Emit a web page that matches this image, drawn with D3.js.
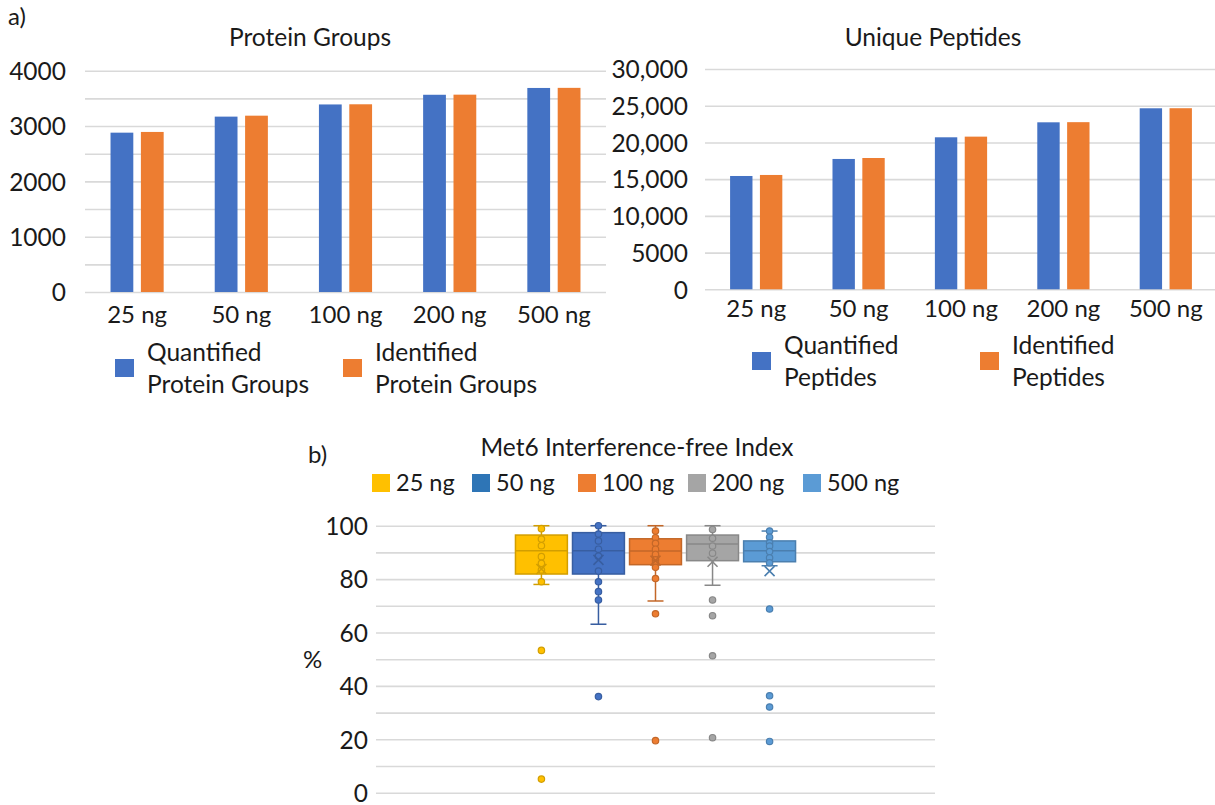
<!DOCTYPE html>
<html>
<head>
<meta charset="utf-8">
<script src="https://cdn.jsdelivr.net/npm/d3@7"></script>
<style>
  body { margin: 0; background: #fff; }
  svg text { font-family: Lato, Carlito, Calibri, sans-serif; fill: #1a1a1a; }
</style>
</head>
<body>
<svg id="chart" width="1215" height="805"></svg>
<script>
// Data
var categories = ["25 ng", "50 ng", "100 ng", "200 ng", "500 ng"];

var proteinQuantified = [2880, 3170, 3390, 3565, 3688];
var proteinIdentified = [2893, 3187, 3393, 3567, 3690];
var peptideQuantified = [15430, 17750, 20700, 22740, 24650];
var peptideIdentified = [15570, 17880, 20790, 22760, 24660];

var proteinTicks = [0, 1000, 2000, 3000, 4000];
var peptideTicks = [0, 5000, 10000, 15000, 20000, 25000, 30000];
var boxTicks = [0, 20, 40, 60, 80, 100];

// box & whisker summary, one entry per amount
var boxSeries = ["25 ng", "50 ng", "100 ng", "200 ng", "500 ng"];
var whiskerLow = [78.0, 63.1, 71.8, 77.7, 85.0];
var quart1 = [81.9, 81.9, 85.4, 86.9, 86.5];
var medians = [90.6, 90.6, 90.5, 93.1, 90.6];
var quart3 = [96.5, 97.4, 95.1, 96.5, 94.3];
var whiskerHigh = [100, 100, 100, 100, 98.0];
var means = [83.8, 87.2, 86.9, 86.5, 83.0];
var points = [
  [98.9, 95.0, 92.5, 88.4, 85.9, 83.4, 79.0, 53.3, 5.1],
  [100, 96.9, 94.3, 91.2, 88.6, 83.0, 79.0, 75.3, 72.2, 36.0],
  [98.0, 95.5, 93.4, 91.2, 89.3, 87.2, 85.9, 84.4, 80.2, 67.0, 19.5],
  [98.6, 95.3, 92.4, 89.7, 72.2, 66.3, 51.3, 20.6],
  [98.0, 95.7, 93.6, 92.4, 90.3, 88.0, 86.1, 68.8, 36.3, 32.1, 19.2]
];

var barColors = ["#4472C4", "#ED7D31"];
var boxColors = ["#FFC000", "#4472C4", "#ED7D31", "#A5A5A5", "#5B9BD5"];
var legendColors = ["#FFC000", "#2E75B6", "#ED7D31", "#A5A5A5", "#5B9BD5"];
var gridColor = "#d9d9d9";

var svg = d3.select("#chart");

function gridAndAxis(y, x0, x1, gridValues, labelValues, fmt, labelRight) {
  svg.append("g")
    .attr("transform", "translate(" + x0 + ",0)")
    .call(d3.axisLeft(y).tickValues(gridValues).tickSize(-(x1 - x0)).tickFormat(""))
    .call(function(g){ g.select(".domain").remove(); })
    .selectAll("line")
    .attr("stroke", gridColor)
    .attr("stroke-width", 1.6);

  svg.append("g")
    .attr("transform", "translate(" + labelRight + ",0)")
    .call(d3.axisLeft(y).tickValues(labelValues).tickSize(0).tickPadding(0).tickFormat(fmt))
    .call(function(g){ g.select(".domain").remove(); })
    .selectAll("text")
    .style("font-size", "24.5px")
    .attr("dy", "0.36em");
}

function barChart(cfg) {
  var x = d3.scaleBand().domain(categories).range([cfg.left, cfg.right])
    .paddingInner(0.49).paddingOuter(0.245);
  var xs = d3.scaleBand().domain([0, 1]).range([0, x.bandwidth()]).paddingInner(0.25);
  var y = d3.scaleLinear().domain([0, cfg.max]).range([cfg.bottom, cfg.top]);

  gridAndAxis(y, cfg.left, cfg.right, d3.range(0, cfg.max + 1, cfg.gridStep), cfg.ticks, cfg.fmt, cfg.labelRight);

  var series = [cfg.quant, cfg.ident];
  series.forEach(function(vals, s){
    svg.append("g").selectAll("rect")
      .data(vals)
      .enter()
      .append("rect")
      .attr("x", function(d, i){ return x(categories[i]) + xs(s); })
      .attr("y", function(d){ return y(d); })
      .attr("width", xs.bandwidth())
      .attr("height", function(d){ return y(0) - y(d); })
      .attr("fill", barColors[s]);
  });

  svg.append("g")
    .attr("transform", "translate(0," + (cfg.bottom + cfg.catGap) + ")")
    .call(d3.axisBottom(x).tickSize(0).tickPadding(0))
    .call(function(g){ g.select(".domain").remove(); })
    .selectAll("text")
    .attr("dy", 0)
    .style("font-size", "24px");

  svg.append("text")
    .attr("x", cfg.titleX).attr("y", 46)
    .attr("text-anchor", "middle")
    .style("font-size", "24.5px")
    .text(cfg.title);

  cfg.legend.forEach(function(item, s){
    svg.append("rect")
      .attr("x", item.x).attr("y", cfg.legendY)
      .attr("width", 19).attr("height", 18)
      .attr("fill", barColors[s]);
    var t = svg.append("text")
      .attr("x", item.x + 32).attr("y", cfg.legendY + 2)
      .style("font-size", "24.5px");
    item.lines.forEach(function(line, k){
      t.append("tspan").attr("x", item.x + 32).attr("dy", k === 0 ? 0 : 32).text(line);
    });
  });
}

svg.append("text").attr("x", 8).attr("y", 25).style("font-size", "24px").text("a)");

barChart({
  left: 85, right: 606, top: 70.7, bottom: 292, max: 4000, gridStep: 500,
  ticks: proteinTicks, fmt: d3.format("d"), labelRight: 66, catGap: 31,
  quant: proteinQuantified, ident: proteinIdentified,
  title: "Protein Groups", titleX: 310, legendY: 359,
  legend: [
    { x: 115, lines: ["Quantified", "Protein Groups"] },
    { x: 343, lines: ["Identified", "Protein Groups"] }
  ]
});

barChart({
  left: 705, right: 1217, top: 69, bottom: 289.3, max: 30000, gridStep: 5000,
  ticks: peptideTicks, fmt: function(d){ return d >= 10000 ? d3.format(",")(d) : d; },
  labelRight: 688, catGap: 28,
  quant: peptideQuantified, ident: peptideIdentified,
  title: "Unique Peptides", titleX: 933, legendY: 352,
  legend: [
    { x: 752, lines: ["Quantified", "Peptides"] },
    { x: 980, lines: ["Identified", "Peptides"] }
  ]
});

// b) box and whisker
svg.append("text").attr("x", 308).attr("y", 463).style("font-size", "24px").text("b)");
svg.append("text").attr("x", 637).attr("y", 456).attr("text-anchor", "middle")
  .style("font-size", "24.5px").text("Met6 Interference-free Index");

var legendX = [372, 472, 578, 688, 803];
boxSeries.forEach(function(name, i){
  svg.append("rect").attr("x", legendX[i]).attr("y", 474)
    .attr("width", 18).attr("height", 18).attr("fill", legendColors[i]);
  svg.append("text").attr("x", legendX[i] + 24).attr("y", 491)
    .style("font-size", "23.5px").text(name);
});

var by = d3.scaleLinear().domain([0, 100]).range([792.7, 525.7]);
var bx = d3.scaleBand().domain([""]).range([376, 935]).paddingOuter(0.48);
var bs = d3.scaleBand().domain(boxSeries).range([bx(""), bx("") + bx.bandwidth()])
  .paddingInner(0.09).paddingOuter(0.045);

gridAndAxis(by, 376, 935, d3.range(0, 101, 10), boxTicks, d3.format("d"), 368);

svg.append("text").attr("x", 303).attr("y", 668).style("font-size", "24px").text("%");

var boxes = svg.append("g").selectAll("g")
  .data(boxSeries)
  .enter()
  .append("g");

boxes.each(function(name, i){
  var g = d3.select(this);
  var c = boxColors[i];
  var dark = d3.color(c).darker(0.55).formatHex();
  var cx = bs(name) + bs.bandwidth() / 2;
  var cap = 8;

  g.append("line")
    .attr("x1", cx).attr("x2", cx)
    .attr("y1", by(whiskerLow[i])).attr("y2", by(whiskerHigh[i]))
    .attr("stroke", dark).attr("stroke-width", 1.5);
  [whiskerLow[i], whiskerHigh[i]].forEach(function(v){
    g.append("line")
      .attr("x1", cx - cap).attr("x2", cx + cap)
      .attr("y1", by(v)).attr("y2", by(v))
      .attr("stroke", dark).attr("stroke-width", 1.5);
  });

  g.append("rect")
    .attr("x", bs(name)).attr("width", bs.bandwidth())
    .attr("y", by(quart3[i])).attr("height", by(quart1[i]) - by(quart3[i]))
    .attr("fill", c).attr("stroke", dark).attr("stroke-width", 1.5);

  g.append("line")
    .attr("x1", bs(name)).attr("x2", bs(name) + bs.bandwidth())
    .attr("y1", by(medians[i])).attr("y2", by(medians[i]))
    .attr("stroke", dark).attr("stroke-width", 1.5);

  g.selectAll("circle")
    .data(points[i])
    .enter()
    .append("circle")
    .attr("cx", cx)
    .attr("cy", function(d){ return by(d); })
    .attr("r", 3.2)
    .attr("fill", c)
    .attr("stroke", dark)
    .attr("stroke-width", 1.2);

  var m = by(means[i]), s = 5;
  g.append("path")
    .attr("d", "M" + (cx - s) + "," + (m - s) + "L" + (cx + s) + "," + (m + s) +
               "M" + (cx - s) + "," + (m + s) + "L" + (cx + s) + "," + (m - s))
    .attr("stroke", dark).attr("stroke-width", 1.6).attr("fill", "none");
});
</script>
</body>
</html>
